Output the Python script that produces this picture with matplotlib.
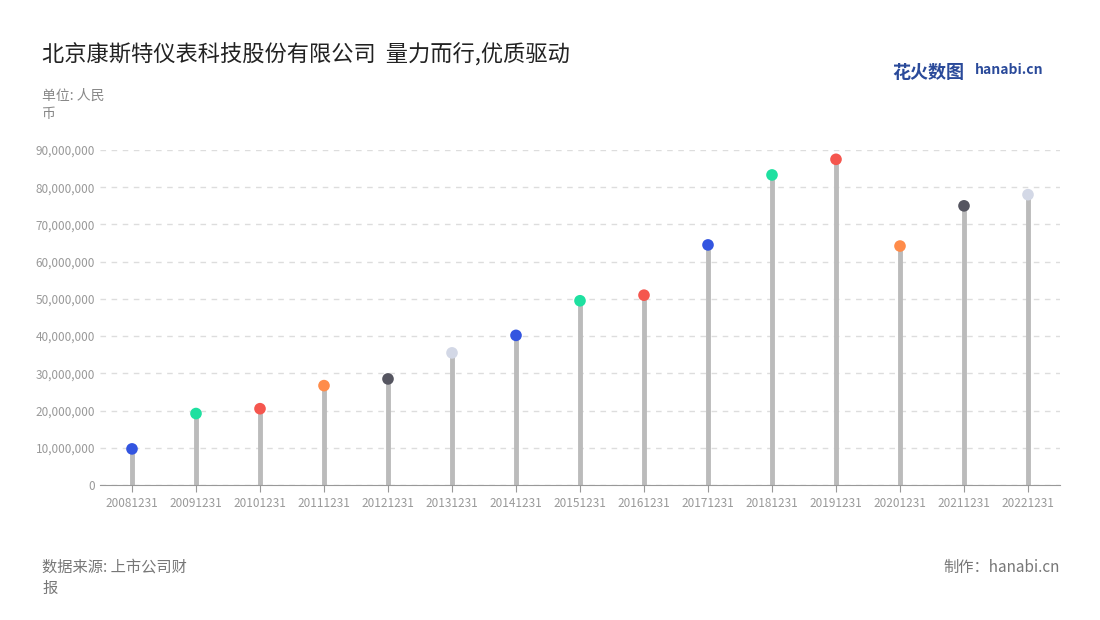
import matplotlib
matplotlib.use("Agg")
import matplotlib.pyplot as plt
from matplotlib.ticker import FuncFormatter

plt.rcParams['font.family'] = ['Noto Sans CJK SC', 'DejaVu Sans']

dates = ["20081231","20091231","20101231","20111231","20121231","20131231","20141231",
         "20151231","20161231","20171231","20181231","20191231","20201231","20211231","20221231"]
values = [9.7e6,19.2e6,20.5e6,26.7e6,28.5e6,35.5e6,40.2e6,49.5e6,51.0e6,64.5e6,83.3e6,87.5e6,64.2e6,75.0e6,78.0e6]
B, G, R, O, D, L = "#3355e0", "#1ee0a0", "#f5564e", "#ff8c4a", "#555560", "#d3d8e6"
colors = [B, G, R, O, D, L, B, G, R, B, G, R, O, D, L]

fig = plt.figure(figsize=(11,6.2), dpi=100)
ax = fig.add_axes([100/1100, 1-485/620, 960/1100, 335/620])
x = list(range(len(dates)))
for i,v in enumerate(values):
    ax.vlines(i, 0, v, color="#bbbbbb", lw=3.5, zorder=2)
    ax.scatter(i, v, s=70, color=colors[i], zorder=3, edgecolors='none')
ax.set_xlim(-0.5, len(dates)-0.5)
ax.set_ylim(0, 90e6)
ax.set_yticks([i*1e7 for i in range(10)])
ax.yaxis.set_major_formatter(FuncFormatter(lambda v,p: f"{int(v):,}"))
ax.set_xticks(x)
ax.set_xticklabels(dates)
ax.tick_params(axis='both', labelsize=8.5, colors="#999999", length=0)
ax.tick_params(axis='x', length=5, color="#999999")
ax.grid(axis='y', ls=(0,(4,4)), color="#dddddd", lw=1)
for s in ['top','right','left']:
    ax.spines[s].set_visible(False)
ax.spines['bottom'].set_color("#999999")
ax.set_axisbelow(True)

fig.text(42/1100, 1-55/620, "北京康斯特仪表科技股份有限公司  量力而行,优质驱动", fontsize=16, color="#222222", va='center')
fig.text(42/1100, 1-96/620, "单位: 人民", fontsize=10, color="#888888", va='center')
fig.text(42/1100, 1-114/620, "币", fontsize=10, color="#888888", va='center')
fig.text(42/1100, 1-567/620, "数据来源: 上市公司财", fontsize=11, color="#777777", va='center')
fig.text(42/1100, 1-588/620, "报", fontsize=11, color="#777777", va='center')
fig.text(1060/1100, 1-567/620, "制作：hanabi.cn", fontsize=11, color="#777777", va='center', ha='right')
fig.text(892/1100, 1-72/620, "花火数图", fontsize=13, color="#2a4a9a", va='center', weight='bold')
fig.text(975/1100, 1-70/620, "hanabi.cn", fontsize=10, color="#2a4a9a", va='center', weight='bold')
fig.savefig("out.png", dpi=100)
